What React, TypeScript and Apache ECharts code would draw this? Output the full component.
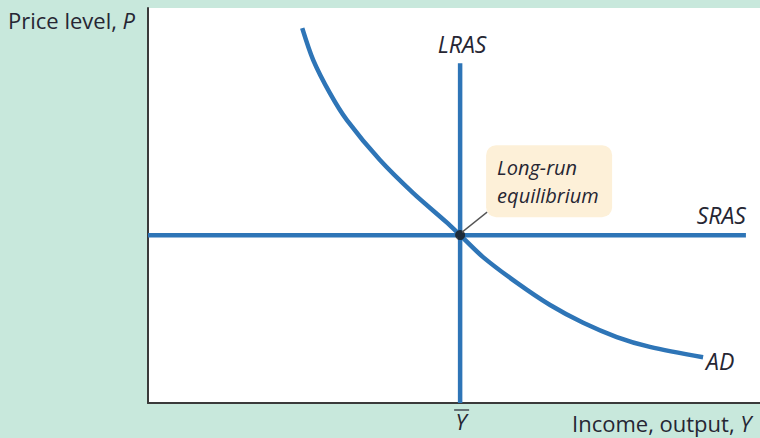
import React, { useEffect, useRef } from 'react';
import * as echarts from 'echarts';

// Data (chart units: x 0..100 income/output, y 0..100 price level)
const yBar = 51;            // potential output Ȳ (LRAS position)
const lrasTop = 86;         // top of the LRAS line
const srasLevel = 42.5;     // SRAS price level
const srasEnd = 97.7;       // where SRAS ends on the right
const adX = [25.2, 27.0, 29.7, 32.5, 37.9, 43.3, 48.9, 51, 54.7, 60.3, 65.7, 71.1, 76.6, 82.0, 90.7];
const adY = [94.9, 86.8, 78.5, 71.6, 61.5, 53.2, 45.6, 42.5, 37.0, 30.4, 24.8, 20.3, 16.7, 14.2, 11.6];
const labels = {
  yName: 'Price level, ',
  yVar: 'P',
  xName: 'Income, output, ',
  xVar: 'Y',
  lras: 'LRAS',
  sras: 'SRAS',
  ad: 'AD',
  eq: 'Long-run\nequilibrium',
  yBarLabel: 'Y',
};

const BLUE = '#2e75b7';
const TEXT = '#262633';
const FONT = '"Open Sans", Lato, sans-serif';

export default function App() {
  const ref = useRef<HTMLDivElement>(null);
  useEffect(() => {
    document.body.style.margin = '0';
    if (!ref.current) return;
    const chart = echarts.init(ref.current, null, { renderer: 'svg' });
    const adData = adX.map((x, i) => [x, adY[i]]);
    chart.setOption({
      animation: false,
      backgroundColor: '#c8e8dc',
      grid: {
        left: 148, top: 8, right: 0, bottom: 35,
        show: true, backgroundColor: '#ffffff', borderWidth: 0,
      },
      xAxis: {
        type: 'value', min: 0, max: 100,
        axisLine: { show: true, onZero: false, lineStyle: { color: '#3a3a3a', width: 2 } },
        axisTick: { show: false }, axisLabel: { show: false }, splitLine: { show: false },
      },
      yAxis: {
        type: 'value', min: 0, max: 100,
        axisLine: { show: true, onZero: false, lineStyle: { color: '#3a3a3a', width: 2 } },
        axisTick: { show: false }, axisLabel: { show: false }, splitLine: { show: false },
      },
      series: [
        {
          name: 'SRAS', type: 'line', symbol: 'none',
          data: [[0, srasLevel], [srasEnd, srasLevel]],
          lineStyle: { color: BLUE, width: 4.5, cap: 'butt' }, z: 2,
        },
        {
          name: 'LRAS', type: 'line', symbol: 'none',
          data: [[yBar, 0], [yBar, lrasTop]],
          lineStyle: { color: BLUE, width: 4.5, cap: 'butt' }, z: 2,
        },
        {
          name: 'AD', type: 'line', symbol: 'none', smooth: 0.3,
          data: adData,
          lineStyle: { color: BLUE, width: 4.5, cap: 'butt' }, z: 3,
        },
        {
          name: 'eq', type: 'scatter', symbol: 'circle', symbolSize: 10,
          data: [[yBar, srasLevel]],
          itemStyle: { color: '#1a1a1a' }, z: 5,
        },
      ],
    });

    const px = (x: number, y: number) => chart.convertToPixel({ gridIndex: 0 }, [x, y]) as number[];
    const eq = px(yBar, srasLevel);
    const lt = px(yBar, lrasTop);
    const se = px(srasEnd, srasLevel);
    const ae = px(adX[adX.length - 1], adY[adY.length - 1]);
    const axisBottom = px(yBar, 0);

    const italic = { fontFamily: FONT, fontStyle: 'italic', fontSize: 23, fill: TEXT };
    const rich = {
      n: { fontFamily: FONT, fontSize: 22, fill: TEXT, color: TEXT },
      v: { fontFamily: FONT, fontSize: 22, fontStyle: 'italic', fill: TEXT, color: TEXT },
    };

    chart.setOption({
      graphic: [
        {
          type: 'text', x: 8, y: 20,
          style: { text: `{n|${labels.yName}}{v|${labels.yVar}}`, rich, textVerticalAlign: 'middle' },
        },
        {
          type: 'text', x: 572, y: 423,
          style: { text: `{n|${labels.xName}}{v|${labels.xVar}}`, rich, textVerticalAlign: 'middle' },
        },
        {
          type: 'text', x: lt[0] + 2, y: lt[1] - 8,
          style: { ...italic, text: labels.lras, textAlign: 'center', textVerticalAlign: 'bottom' },
        },
        {
          type: 'text', x: se[0], y: se[1] - 9,
          style: { ...italic, text: labels.sras, textAlign: 'right', textVerticalAlign: 'bottom' },
        },
        {
          type: 'text', x: ae[0] + 3, y: ae[1] + 4,
          style: { ...italic, text: labels.ad, textAlign: 'left', textVerticalAlign: 'middle' },
        },
        {
          type: 'text', x: axisBottom[0] + 1, y: axisBottom[1] + 7,
          style: { ...italic, fontSize: 22, text: labels.yBarLabel, textAlign: 'center', textVerticalAlign: 'top' },
        },
        {
          type: 'line',
          shape: { x1: axisBottom[0] - 6, y1: axisBottom[1] + 7, x2: axisBottom[0] + 9, y2: axisBottom[1] + 7 },
          style: { stroke: TEXT, lineWidth: 1.2 },
        },
        {
          type: 'line', z: 10,
          shape: { x1: eq[0] + 2, y1: eq[1] - 3, x2: eq[0] + 27, y2: eq[1] - 23 },
          style: { stroke: '#555555', lineWidth: 1.3 },
        },
        {
          type: 'rect', z: 9,
          shape: { x: eq[0] + 26, y: eq[1] - 90, width: 126, height: 72, r: 10 },
          style: { fill: '#fdf0d8' },
        },
        {
          type: 'text', z: 11, x: eq[0] + 37, y: eq[1] - 82,
          style: { ...italic, fontSize: 20, text: labels.eq, lineHeight: 28, textAlign: 'left', textVerticalAlign: 'top' },
        },
      ],
    });
    return () => chart.dispose();
  }, []);
  return <div ref={ref} style={{ width: 760, height: 438 }} />;
}
